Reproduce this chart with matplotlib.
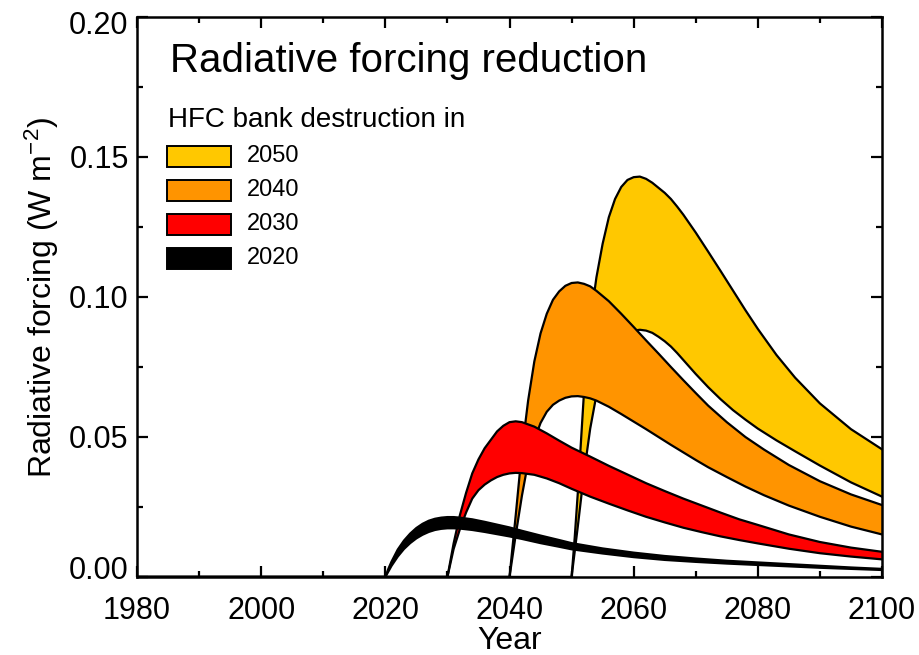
import matplotlib
matplotlib.use("Agg")
import matplotlib.pyplot as plt
from matplotlib.patches import Rectangle
from matplotlib.ticker import MultipleLocator, FormatStrFormatter
from matplotlib.transforms import ScaledTranslation

plt.rcParams['font.family'] = ['Liberation Sans', 'DejaVu Sans']
plt.rcParams['mathtext.default'] = 'regular'

# HFC bank destruction in 2050 (yellow band)
years_2050 = [1980, 2050, 2050.5, 2051, 2052, 2053, 2054, 2055, 2056, 2057, 2058, 2059, 2060, 2061, 2062,
              2063, 2064, 2065, 2066, 2067, 2068, 2070, 2072, 2074, 2076, 2078, 2080, 2083, 2086, 2090, 2095, 2100]
upper_2050 = [0, 0, 0.014, 0.030, 0.066, 0.091, 0.107, 0.119, 0.1285, 0.1350, 0.1393, 0.1418, 0.1428, 0.1430, 0.1422,
              0.1408, 0.1390, 0.1372, 0.1350, 0.1323, 0.1294, 0.1230, 0.1162, 0.1093, 0.1023, 0.0953, 0.0886, 0.0793,
              0.0712, 0.0620, 0.0528, 0.0456]
lower_2050 = [0, 0, 0.009, 0.018, 0.037, 0.053, 0.065, 0.073, 0.079, 0.083, 0.086, 0.0873, 0.0880, 0.0883, 0.0880,
              0.0872, 0.0858, 0.0842, 0.0823, 0.0800, 0.0775, 0.0725, 0.0678, 0.0635, 0.0596, 0.0562, 0.053, 0.0488,
              0.0449, 0.0398, 0.0338, 0.0287]

# 2040 (orange band)
years_2040 = [1980, 2040, 2040.5, 2041, 2042, 2043, 2044, 2045, 2046, 2047, 2048, 2049, 2050, 2051, 2052, 2053,
              2054, 2056, 2058, 2060, 2062, 2064, 2066, 2068, 2070, 2072, 2075, 2078, 2081, 2085, 2090, 2095, 2100]
upper_2040 = [0, 0, 0.011, 0.022, 0.045, 0.063, 0.077, 0.087, 0.094, 0.099, 0.102, 0.104, 0.105, 0.1052, 0.1047, 0.1038,
              0.1022, 0.0985, 0.0940, 0.0893, 0.0845, 0.0798, 0.0750, 0.0703, 0.0657, 0.0612, 0.0553, 0.050, 0.0455, 0.0400,
              0.0342, 0.0295, 0.0257]
lower_2040 = [0, 0, 0.0075, 0.015, 0.029, 0.041, 0.049, 0.055, 0.059, 0.0615, 0.063, 0.064, 0.0645, 0.0646, 0.0643, 0.0638,
              0.0630, 0.0608, 0.0582, 0.0555, 0.0528, 0.0500, 0.0472, 0.0445, 0.0418, 0.0392, 0.0357, 0.0323, 0.0292, 0.0255,
              0.0215, 0.0180, 0.0152]

# 2030 (red band)
years_2030 = [1980, 2030, 2030.5, 2031, 2032, 2033, 2034, 2035, 2036, 2037, 2038, 2039, 2040, 2041, 2042, 2044, 2046,
              2048, 2050, 2053, 2056, 2059, 2062, 2065, 2068, 2071, 2074, 2077, 2080, 2085, 2090, 2095, 2100]
upper_2030 = [0, 0, 0.006, 0.012, 0.022, 0.030, 0.037, 0.042, 0.046, 0.049, 0.052, 0.054, 0.0553, 0.0556, 0.0553, 0.0537,
              0.0513, 0.0487, 0.0462, 0.0430, 0.0397, 0.0366, 0.0335, 0.0307, 0.0280, 0.0255, 0.0230, 0.0206, 0.0186, 0.0152,
              0.0125, 0.0105, 0.009]
lower_2030 = [0, 0, 0.005, 0.010, 0.017, 0.023, 0.028, 0.031, 0.033, 0.0345, 0.0357, 0.0365, 0.037, 0.0372, 0.0371, 0.0365,
              0.0352, 0.0335, 0.0315, 0.0287, 0.0262, 0.0238, 0.0215, 0.0195, 0.0176, 0.0160, 0.0145, 0.0132, 0.0120, 0.0101,
              0.0085, 0.0073, 0.0063]

# 2020 (black band)
years_2020 = [1980, 2020, 2020.5, 2021, 2022, 2023, 2024, 2025, 2026, 2027, 2028, 2029, 2030, 2031, 2032, 2034,
              2036, 2038, 2040, 2042, 2045, 2048, 2050, 2055, 2060, 2065, 2070, 2075, 2080, 2085, 2090, 2095, 2100]
upper_2020 = [0, 0, 0.003, 0.0055, 0.0098, 0.013, 0.0155, 0.0175, 0.019, 0.0201, 0.0208, 0.0212, 0.0214, 0.0214, 0.0212, 0.0206,
              0.0197, 0.0187, 0.0177, 0.0165, 0.0148, 0.0132, 0.0121, 0.0102, 0.0087, 0.0075, 0.0066, 0.0058, 0.0052, 0.0046,
              0.0040, 0.0034, 0.0029]
lower_2020 = [0, 0, 0.002, 0.004, 0.0073, 0.0100, 0.0121, 0.0138, 0.0151, 0.0161, 0.0168, 0.0172, 0.0174, 0.0174, 0.0173, 0.0168,
              0.0161, 0.0153, 0.0145, 0.0136, 0.0121, 0.0108, 0.0099, 0.0084, 0.0071, 0.0061, 0.0054, 0.0048, 0.0043, 0.0038,
              0.0033, 0.0029, 0.0025]

labels = ['2050', '2040', '2030', '2020']
colors = ['#ffc800', '#ff9400', '#ff0000', '#000000']
bands = [(years_2050, lower_2050, upper_2050),
         (years_2040, lower_2040, upper_2040),
         (years_2030, lower_2030, upper_2030),
         (years_2020, lower_2020, upper_2020)]

fig = plt.figure(figsize=(9.2, 6.55), dpi=100)
ax = fig.add_axes([137 / 920, 78 / 655, 745 / 920, 560 / 655])

# later destruction years first, so earlier ones sit on top
for i, (yrs, lo, hi) in enumerate(bands):
    z = 2 + i
    ax.fill_between(yrs, lo, hi, facecolor=colors[i], edgecolor='none', zorder=z)
    ax.plot(yrs, hi, color='black', lw=1.6, zorder=z + 0.5)
    ax.plot(yrs, lo, color='black', lw=1.6, zorder=z + 0.5)

ax.set_xlim(1980, 2100)
ax.set_ylim(0, 0.2)
ax.xaxis.set_major_locator(MultipleLocator(20))
ax.xaxis.set_minor_locator(MultipleLocator(10))
ax.yaxis.set_major_locator(MultipleLocator(0.05))
ax.yaxis.set_minor_locator(MultipleLocator(0.025))
ax.yaxis.set_major_formatter(FormatStrFormatter('%.2f'))
ax.tick_params(which='both', direction='in', top=True, right=True, width=1.6, labelsize=22)
ax.tick_params(which='major', length=8)
ax.tick_params(which='minor', length=4.5)
ax.tick_params(axis='x', which='major', pad=14)
ax.tick_params(axis='y', which='major', pad=6)
for s in ax.spines.values():
    s.set_linewidth(1.8)
    s.set_zorder(10)

ax.set_xlabel('Year', fontsize=23, labelpad=0)
ax.set_ylabel(r'Radiative forcing (W m$^{-2}$)', fontsize=23, labelpad=6)

# nudge the end labels of the y axis inside, as in the original
fig.canvas.draw()
for tick in ax.yaxis.get_major_ticks():
    loc = tick.get_loc()
    if abs(loc) < 1e-9:
        dy = 7
    elif abs(loc - 0.2) < 1e-9:
        dy = -4
    else:
        continue
    lab = tick.label1
    lab.set_transform(lab.get_transform() + ScaledTranslation(0, dy / 72, fig.dpi_scale_trans))

ax.text(0.044, 0.902, 'Radiative forcing reduction', transform=ax.transAxes,
        fontsize=29, ha='left', va='baseline')
ax.text(0.042, 0.804, 'HFC bank destruction in', transform=ax.transAxes,
        fontsize=20, ha='left', va='baseline')

for i, lab in enumerate(labels):
    ytop = 0.770 - i * 0.0607
    ax.add_patch(Rectangle((0.040, ytop - 0.038), 0.086, 0.038, transform=ax.transAxes,
                           facecolor=colors[i], edgecolor='black', lw=1.4, zorder=12))
    ax.text(0.147, ytop - 0.019, lab, transform=ax.transAxes, fontsize=17,
            ha='left', va='center')

fig.savefig('out.png', dpi=100)
